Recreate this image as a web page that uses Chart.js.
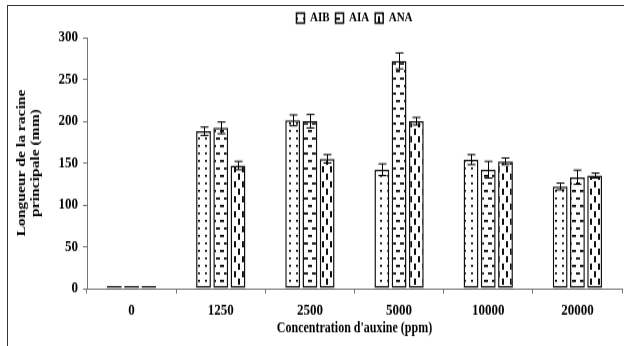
<!DOCTYPE html>
<html>
<head>
<meta charset="utf-8">
<script src="https://cdn.jsdelivr.net/npm/chart.js@4/dist/chart.umd.min.js"></script>
<style>
  html, body { margin: 0; padding: 0; background: #fff; }
  #wrap { position: relative; width: 624px; height: 346px; overflow: hidden; }
  #frame { position: absolute; left: 7px; top: 5px; right: 0; bottom: 0;
           border-top: 1px solid #333; border-left: 1px solid #333; }
  canvas { position: absolute; left: 0; top: 0; }
</style>
</head>
<body>
<div id="wrap">
  <div id="frame"></div>
  <!-- the original figure is stretched vertically, so the canvas is drawn short and scaled up -->
  <canvas id="chart" width="624" height="277" style="width:624px;height:346px"></canvas>
</div>
<script>
// Concentrations (ppm) on the x axis
const categories = ['0', '1250', '2500', '5000', '10000', '20000'];

// Mean main root length (mm) per auxin
const aib = [0, 188, 201, 142, 154, 122];
const aia = [0, 192, 200, 272, 142, 133];
const ana = [0, 147, 155, 200, 152, 135];

// Error bar half-lengths (mm)
const aibErr = [0, 5, 6.5, 7, 6, 4];
const aiaErr = [0, 7, 8, 9.5, 10, 8.5];
const anaErr = [0, 5, 5, 4.5, 4, 3];

const yTicks = [0, 50, 100, 150, 200, 250, 300];

Chart.defaults.font.family = '"Liberation Serif", "Times New Roman", serif';
Chart.defaults.font.weight = 'bold';
Chart.defaults.font.size = 13;
Chart.defaults.color = '#000';

// Fill patterns, built on small tiles
function makePattern(w, h, draw) {
  const c = document.createElement('canvas');
  c.width = w;
  c.height = h;
  const g = c.getContext('2d');
  g.fillStyle = '#fff';
  g.fillRect(0, 0, w, h);
  g.fillStyle = '#111';
  draw(g);
  return c.getContext('2d').createPattern(c, 'repeat');
}

const dots = makePattern(7, 6, g => g.fillRect(2, 2, 2, 1.6));
const hDashes = makePattern(8, 12, g => {
  g.fillRect(0, 2, 4, 1.8);
  g.fillRect(4, 8, 4, 1.8);
});
const vDashes = makePattern(8, 12, g => {
  g.fillRect(2, 1, 2, 5);
  g.fillRect(6, 7, 2, 5);
});

const errors = [aibErr, aiaErr, anaErr];

// Draws the error bars from the value scale
const errorBars = {
  id: 'errorBars',
  afterDatasetsDraw(chart) {
    const ctx = chart.ctx;
    const y = chart.scales.y;
    ctx.save();
    ctx.strokeStyle = '#000';
    ctx.lineWidth = 1;
    chart.data.datasets.forEach((ds, i) => {
      const meta = chart.getDatasetMeta(i);
      meta.data.forEach((bar, j) => {
        const v = ds.data[j];
        const e = errors[i][j];
        if (!v || !e) return;
        const x = Math.round(bar.x) + 0.5;
        const top = y.getPixelForValue(v + e);
        const bot = y.getPixelForValue(v - e);
        ctx.beginPath();
        ctx.moveTo(x, top); ctx.lineTo(x, bot);
        ctx.moveTo(x - 4, top); ctx.lineTo(x + 4, top);
        ctx.moveTo(x - 4, bot); ctx.lineTo(x + 4, bot);
        ctx.stroke();
      });
    });
    ctx.restore();
  }
};

const barStyle = {
  borderColor: '#111',
  borderWidth: 1.5,
  borderSkipped: false,
  minBarLength: 2,
  categoryPercentage: 0.58,
  barPercentage: 0.86,
};

new Chart(document.getElementById('chart'), {
  type: 'bar',
  data: {
    labels: categories,
    datasets: [
      { label: 'AIB', data: aib, backgroundColor: dots, ...barStyle },
      { label: 'AIA', data: aia, backgroundColor: hDashes, ...barStyle },
      { label: 'ANA', data: ana, backgroundColor: vDashes, ...barStyle },
    ],
  },
  plugins: [errorBars],
  options: {
    responsive: false,
    animation: false,
    layout: { padding: { left: 8, right: 2, top: 3, bottom: 7 } },
    plugins: {
      tooltip: { enabled: false },
      legend: {
        position: 'top',
        fullSize: false,
        labels: {
          boxWidth: 8,
          boxHeight: 8,
          padding: 6,
          font: { size: 11, weight: 'bold' },
        },
      },
    },
    scales: {
      x: {
        afterFit: s => { s.height = 39; },
        grid: { drawOnChartArea: false, tickLength: 4, color: '#777' },
        border: { color: '#777' },
        ticks: { padding: 6 },
        title: {
          display: true,
          text: "Concentration d'auxine (ppm)",
          font: { size: 12, weight: 'bold' },
          padding: { top: 0, bottom: 0 },
        },
      },
      y: {
        min: 0,
        max: 300,
        afterBuildTicks: s => { s.ticks = yTicks.map(v => ({ value: v })); },
        afterFit: s => { s.width = 79; },
        grid: { drawOnChartArea: false, tickLength: 4, color: '#777' },
        border: { color: '#777' },
        ticks: { padding: 5 },
        title: {
          display: true,
          text: ['Longueur de la racine', 'principale (mm)'],
          font: { size: 12.5, weight: 'bold', lineHeight: 1.12 },
          padding: { top: 7, bottom: 0 },
        },
      },
    },
  },
});
</script>
</body>
</html>
